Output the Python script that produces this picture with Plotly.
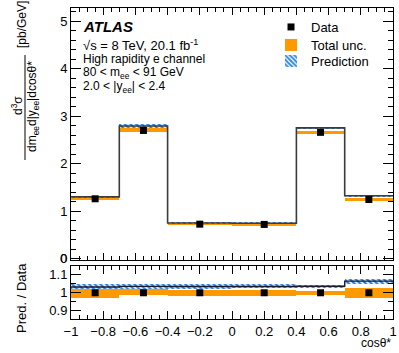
import plotly.graph_objects as go

# bins in cos(theta*)
edges = [-1.0, -0.7, -0.4, 0.0, 0.4, 0.7, 1.0]
centers = [-0.85, -0.55, -0.2, 0.2, 0.55, 0.85]
widths = [0.3, 0.3, 0.4, 0.4, 0.3, 0.3]

# cross-section [pb/GeV]
data = [1.26, 2.70, 0.725, 0.72, 2.66, 1.245]
pred = [1.30, 2.795, 0.75, 0.745, 2.755, 1.325]

# relative bands
unc_lo = [0.972, 0.985, 0.983, 0.982, 0.985, 0.970]
unc_hi = [1.020, 1.020, 1.018, 1.018, 1.012, 1.027]
hatch_lo = [1.022, 1.022, 1.022, 1.025, 1.028, 1.046]
hatch_hi = [1.048, 1.048, 1.048, 1.048, 1.042, 1.075]

ORANGE = "#ff9900"
BLUE = "#2f86e8"
FONT = "Liberation Sans, Arial, sans-serif"

W, H = 399, 353
L, R, T, B = 71, 6, 8, 34


def px(x):
    return (x - L) / (W - L - R)


def py(y):
    return (H - B - y) / (H - T - B)


ratio = [p / d for p, d in zip(pred, data)]
hatch = dict(shape="\\", fgcolor=BLUE, bgcolor="white", fgopacity=1, size=4, solidity=0.6)

fig = go.Figure()

# ---- main panel ----
fig.add_trace(go.Bar(x=centers, width=widths,
                     base=[d * l for d, l in zip(data, unc_lo)],
                     y=[d * (h - l) for d, h, l in zip(data, unc_hi, unc_lo)],
                     marker=dict(color=ORANGE, line=dict(width=0)),
                     name="Total unc.", legend="legend2",
                     xaxis="x", yaxis="y"))
fig.add_trace(go.Bar(x=centers, width=widths,
                     base=[d * l for d, l in zip(data, hatch_lo)],
                     y=[d * (h - l) for d, h, l in zip(data, hatch_hi, hatch_lo)],
                     marker=dict(color="white", line=dict(width=0), pattern=hatch),
                     name="Prediction", legend="legend3",
                     xaxis="x", yaxis="y"))
fig.add_trace(go.Scatter(x=edges, y=pred + [pred[-1]], mode="lines", line_shape="hv",
                         line=dict(color="#3c3c3c", width=1.6), showlegend=False,
                         xaxis="x", yaxis="y"))
fig.add_trace(go.Scatter(x=centers, y=data, mode="markers",
                         marker=dict(symbol="square", size=7, color="black"),
                         error_y=dict(type="data", array=[0.01] * 6, color="black",
                                      thickness=1.5, width=0),
                         name="Data", legend="legend",
                         xaxis="x", yaxis="y"))

# ---- ratio panel ----
fig.add_trace(go.Bar(x=centers, width=widths, base=unc_lo,
                     y=[h - l for h, l in zip(unc_hi, unc_lo)],
                     marker=dict(color=ORANGE, line=dict(width=0)),
                     showlegend=False, xaxis="x2", yaxis="y2"))
fig.add_trace(go.Bar(x=centers, width=widths, base=hatch_lo,
                     y=[h - l for h, l in zip(hatch_hi, hatch_lo)],
                     marker=dict(color="white", line=dict(width=0), pattern=hatch),
                     showlegend=False, xaxis="x2", yaxis="y2"))
fig.add_trace(go.Scatter(x=edges, y=ratio + [ratio[-1]], mode="lines", line_shape="hv",
                         line=dict(color="#1a1a2e", width=1.4), showlegend=False,
                         xaxis="x2", yaxis="y2"))
fig.add_trace(go.Scatter(x=centers, y=[1.0] * 6, mode="markers",
                         marker=dict(symbol="square", size=7, color="black"),
                         showlegend=False, xaxis="x2", yaxis="y2"))

axis_common = dict(showline=True, linecolor="black", linewidth=1, mirror="allticks",
                   ticks="inside", tickcolor="black", showgrid=False, zeroline=False,
                   automargin=False,
                   tickfont=dict(family=FONT, size=13, color="black"))


def leg(ypix):
    return dict(x=px(271), y=py(ypix), xanchor="left", yanchor="middle",
                bgcolor="rgba(0,0,0,0)", font=dict(family=FONT, size=13),
                itemwidth=30)


fig.update_layout(
    width=W, height=H,
    margin=dict(l=L, r=R, t=T, b=B, autoexpand=False),
    paper_bgcolor="white", plot_bgcolor="white",
    barmode="overlay", bargap=0,
    font=dict(family=FONT, size=13, color="black"),
    xaxis=dict(domain=[0, 1], range=[-1, 1], anchor="y", showticklabels=False,
               dtick=0.2, tick0=-1, ticklen=7,
               minor=dict(dtick=0.05, ticks="inside", ticklen=4, tickcolor="black"),
               **axis_common),
    yaxis=dict(domain=[py(260), 1], range=[-0.03, 5.28], anchor="x",
               tickvals=[0, 1, 2, 3, 4, 5], ticktext=["0", "1", "2", "3", "4", "5"],
               ticklen=10,
               minor=dict(dtick=0.2, ticks="inside", ticklen=5, tickcolor="black"),
               **axis_common),
    xaxis2=dict(domain=[0, 1], range=[-1, 1], anchor="y2", matches="x",
                dtick=0.2, tick0=-1, ticklen=8,
                minor=dict(dtick=0.05, ticks="inside", ticklen=4, tickcolor="black"),
                **axis_common),
    yaxis2=dict(domain=[0, py(266)], range=[0.855, 1.148], anchor="x2",
                dtick=0.1, tick0=0.9, ticklen=10,
                minor=dict(dtick=0.05, ticks="inside", ticklen=5, tickcolor="black"),
                **axis_common),
    legend=leg(27),
    legend2=leg(45),
    legend3=leg(61),
)

# the "0" label of the main y axis is dropped by plotly next to the ratio panel
fig.add_annotation(text="0", x=px(69), y=0, xref="paper", yref="y",
                   xanchor="right", yanchor="middle", showarrow=False,
                   font=dict(family=FONT, size=13, color="black"))

ann = [
    dict(text="<b><i>ATLAS</i></b>", x=px(81), y=py(27), size=15),
    dict(text="\u221as = 8 TeV, 20.1 fb<sup>-1</sup>", x=px(81), y=py(45), size=13),
    dict(text="High rapidity e channel", x=px(81), y=py(59), size=12),
    dict(text="80 < m<sub>ee</sub> < 91 GeV", x=px(81), y=py(73), size=12),
    dict(text="2.0 < |y<sub>ee</sub>| < 2.4", x=px(81), y=py(87), size=12),
]
for a in ann:
    fig.add_annotation(text=a["text"], x=a["x"], y=a["y"], xref="paper", yref="paper",
                       xanchor="left", yanchor="middle", showarrow=False,
                       font=dict(family=FONT, size=a["size"], color="black"))

# axis titles
fig.add_annotation(text="cos\u03b8*", x=1, y=py(343), xref="paper", yref="paper",
                   xanchor="right", yanchor="middle", showarrow=False,
                   font=dict(family=FONT, size=12, color="black"))
fig.add_annotation(text="Pred. / Data", x=px(21), y=py(298), xref="paper", yref="paper",
                   xanchor="center", yanchor="middle", textangle=-90, showarrow=False,
                   font=dict(family=FONT, size=13, color="black"))
fig.add_annotation(text="[pb/GeV]", x=px(22), y=py(25), xref="paper", yref="paper",
                   xanchor="center", yanchor="middle", textangle=-90, showarrow=False,
                   font=dict(family=FONT, size=12, color="black"))
fig.add_annotation(text="d<sup>3</sup>\u03c3", x=px(17), y=py(105), xref="paper", yref="paper",
                   xanchor="center", yanchor="middle", textangle=-90, showarrow=False,
                   font=dict(family=FONT, size=12, color="black"))
fig.add_annotation(text="dm<sub>ee</sub>d|y<sub>ee</sub>|dcos\u03b8*", x=px(33), y=py(107),
                   xref="paper", yref="paper",
                   xanchor="center", yanchor="middle", textangle=-90, showarrow=False,
                   font=dict(family=FONT, size=12, color="black"))
fig.add_shape(type="line", xref="paper", yref="paper", x0=px(25), x1=px(25),
              y0=py(55), y1=py(160), line=dict(color="black", width=1))

# drop the default 8px body margin so the figure sits at the page corner
fig.write_html("out.html", config={"displayModeBar": False},
               post_script="document.body.style.margin='0px';")
